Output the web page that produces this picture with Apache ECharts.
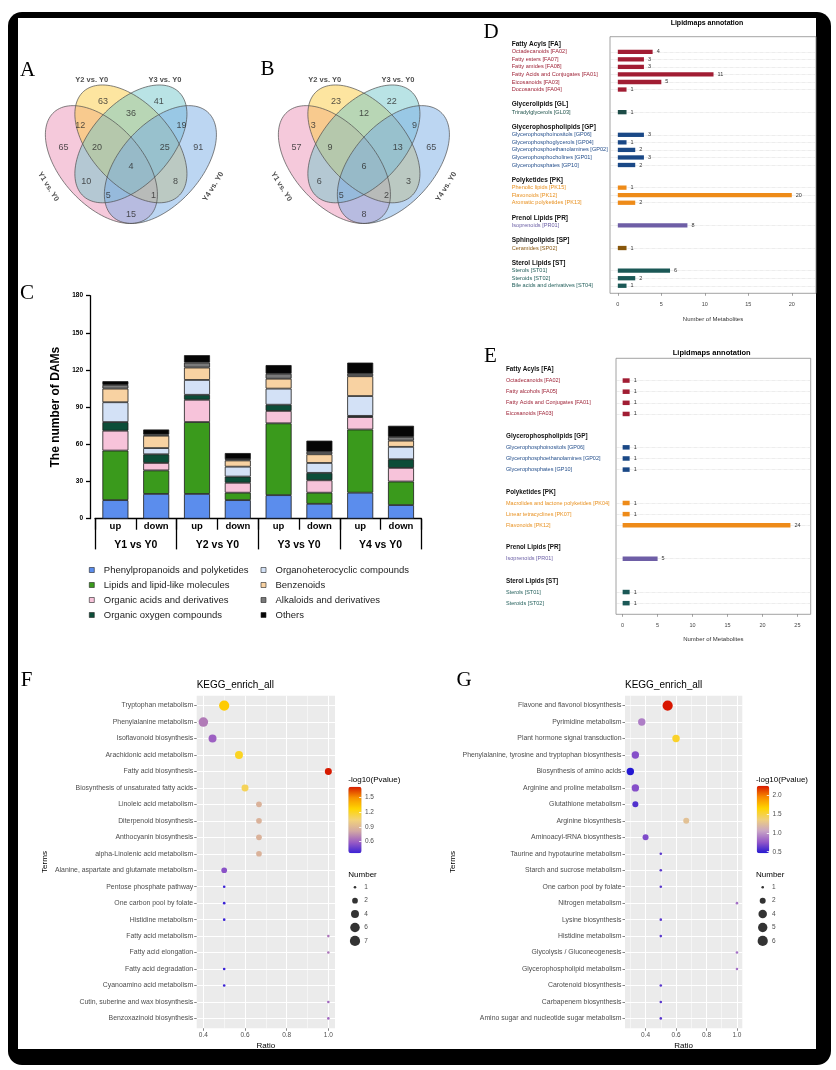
<!DOCTYPE html>
<html>
<head>
<meta charset="utf-8">
<title>Metabolite figure</title>
<script src="https://cdn.jsdelivr.net/npm/echarts@6.0.0/dist/echarts.min.js"></script>
<style>
html,body{margin:0;padding:0;background:#fff;}
#frame{position:absolute;left:8px;top:12px;width:823px;height:1053px;background:#000;border-radius:14px;}
#inner{position:absolute;left:18px;top:18px;width:798px;height:1031px;background:#fff;}
#chart{position:absolute;left:0;top:0;width:836px;height:1070px;}
</style>
</head>
<body>
<div id="frame"></div><div id="inner"></div><div id="chart"></div>
<script>
// ================= DATA =================
// Panels A / B : Venn diagram counts
const vennSetNames = ['Y1 vs. Y0', 'Y2 vs. Y0', 'Y3 vs. Y0', 'Y4 vs. Y0'];
const vennRegionKeys = ['1', '2', '3', '4', '12', '23', '34', '14', '13', '24', '123', '234', '134', '124', '1234'];
const vennCountsA = [65, 63, 41, 91, 12, 36, 19, 15, 10, 8, 20, 25, 5, 1, 4];
const vennCountsB = [57, 23, 22, 65, 3, 12, 9, 8, 6, 3, 9, 13, 5, 2, 6];

// Panel C : stacked bars
const cSides = ['up', 'down', 'up', 'down', 'up', 'down', 'up', 'down'];
const cComparisons = ['Y1 vs Y0', 'Y2 vs Y0', 'Y3 vs Y0', 'Y4 vs Y0'];
const cClasses = ['Phenylpropanoids and polyketides', 'Lipids and lipid-like molecules', 'Organic acids and derivatives', 'Organic oxygen compounds',
                  'Organoheterocyclic compounds', 'Benzenoids', 'Alkaloids and derivatives', 'Others'];
const cPhenylpropanoids = [15, 20, 20, 15, 19, 12, 21, 11];
const cLipids = [40, 19, 58, 6, 58, 9, 51, 19];
const cOrganicAcids = [16, 6, 18, 8, 10, 10, 10, 11];
const cOrganicOxygen = [7, 7, 4, 5, 5, 6, 1, 7];
const cOrganoheterocyclic = [16, 5, 12, 8, 13, 8, 16, 10];
const cBenzenoids = [11, 10, 10, 5, 8, 7, 16, 5];
const cAlkaloids = [3, 1, 4, 1, 4, 2, 2, 3];
const cOthers = [3, 4, 6, 5, 7, 9, 9, 9];

// Panel D : Lipidmaps annotation
const dGroups = ['Fatty Acyls [FA]', 'Glycerolipids [GL]', 'Glycerophospholipids [GP]', 'Polyketides [PK]', 'Prenol Lipids [PR]', 'Sphingolipids [SP]', 'Sterol Lipids [ST]'];
const dGroupKeys = ['FA', 'GL', 'GP', 'PK', 'PR', 'SP', 'ST'];
const dFA = ['Octadecanoids [FA02]', 'Fatty esters [FA07]', 'Fatty amides [FA08]', 'Fatty Acids and Conjugates [FA01]', 'Eicosanoids [FA03]', 'Docosanoids [FA04]'];
const dFAValues = [4, 3, 3, 11, 5, 1];
const dGL = ['Triradylglycerols [GL03]'];
const dGLValues = [1];
const dGP = ['Glycerophosphoinositols [GP06]', 'Glycerophosphoglycerols [GP04]', 'Glycerophosphoethanolamines [GP02]', 'Glycerophosphocholines [GP01]', 'Glycerophosphates [GP10]'];
const dGPValues = [3, 1, 2, 3, 2];
const dPK = ['Phenolic lipids [PK15]', 'Flavonoids [PK12]', 'Aromatic polyketides [PK13]'];
const dPKValues = [1, 20, 2];
const dPR = ['Isoprenoids [PR01]'];
const dPRValues = [8];
const dSP = ['Ceramides [SP02]'];
const dSPValues = [1];
const dST = ['Sterols [ST01]', 'Steroids [ST02]', 'Bile acids and derivatives [ST04]'];
const dSTValues = [6, 2, 1];
const dTicks = [0, 5, 10, 15, 20];

// Panel E : Lipidmaps annotation
const eGroups = ['Fatty Acyls [FA]', 'Glycerophospholipids [GP]', 'Polyketides [PK]', 'Prenol Lipids [PR]', 'Sterol Lipids [ST]'];
const eGroupKeys = ['FA', 'GP', 'PK', 'PR', 'ST'];
const eFA = ['Octadecanoids [FA02]', 'Fatty alcohols [FA05]', 'Fatty Acids and Conjugates [FA01]', 'Eicosanoids [FA03]'];
const eFAValues = [1, 1, 1, 1];
const eGP = ['Glycerophosphoinositols [GP06]', 'Glycerophosphoethanolamines [GP02]', 'Glycerophosphates [GP10]'];
const eGPValues = [1, 1, 1];
const ePK = ['Macrolides and lactone polyketides [PK04]', 'Linear tetracyclines [PK07]', 'Flavonoids [PK12]'];
const ePKValues = [1, 1, 24];
const ePR = ['Isoprenoids [PR01]'];
const ePRValues = [5];
const eST = ['Sterols [ST01]', 'Steroids [ST02]'];
const eSTValues = [1, 1];
const eTicks = [0, 5, 10, 15, 20, 25];

// Panel F : KEGG enrichment
const fTerms = ['Tryptophan metabolism', 'Phenylalanine metabolism', 'Isoflavonoid biosynthesis', 'Arachidonic acid metabolism', 'Fatty acid biosynthesis',
  'Biosynthesis of unsaturated fatty acids', 'Linoleic acid metabolism', 'Diterpenoid biosynthesis', 'Anthocyanin biosynthesis', 'alpha-Linolenic acid metabolism',
  'Alanine, aspartate and glutamate metabolism', 'Pentose phosphate pathway', 'One carbon pool by folate', 'Histidine metabolism', 'Fatty acid metabolism',
  'Fatty acid elongation', 'Fatty acid degradation', 'Cyanoamino acid metabolism', 'Cutin, suberine and wax biosynthesis', 'Benzoxazinoid biosynthesis'];
const fRatio = [0.5, 0.4, 0.444, 0.571, 1.0, 0.6, 0.667, 0.667, 0.667, 0.667, 0.5, 0.5, 0.5, 0.5, 1.0, 1.0, 0.5, 0.5, 1.0, 1.0];
const fNumber = [7, 6, 4, 4, 3, 3, 2, 2, 2, 2, 2, 1, 1, 1, 1, 1, 1, 1, 1, 1];
const fLogP = [1.30, 0.68, 0.60, 1.20, 1.716, 1.10, 0.87, 0.87, 0.87, 0.87, 0.55, 0.363, 0.363, 0.363, 0.66, 0.66, 0.363, 0.363, 0.62, 0.62];
const fRatioTicks = [0.4, 0.6, 0.8, 1.0];
const fRatioMinor = [0.5, 0.7, 0.9];
const fColorTicks = [0.6, 0.9, 1.2, 1.5];
const fSizeLegend = [1, 2, 4, 6, 7];

// Panel G : KEGG enrichment
const gTerms = ['Flavone and flavonol biosynthesis', 'Pyrimidine metabolism', 'Plant hormone signal transduction', 'Phenylalanine, tyrosine and tryptophan biosynthesis',
  'Biosynthesis of amino acids', 'Arginine and proline metabolism', 'Glutathione metabolism', 'Arginine biosynthesis', 'Aminoacyl-tRNA biosynthesis',
  'Taurine and hypotaurine metabolism', 'Starch and sucrose metabolism', 'One carbon pool by folate', 'Nitrogen metabolism', 'Lysine biosynthesis',
  'Histidine metabolism', 'Glycolysis / Gluconeogenesis', 'Glycerophospholipid metabolism', 'Carotenoid biosynthesis', 'Carbapenem biosynthesis',
  'Amino sugar and nucleotide sugar metabolism'];
const gRatio = [0.545, 0.375, 0.6, 0.333, 0.3, 0.333, 0.333, 0.667, 0.4, 0.5, 0.5, 0.5, 1.0, 0.5, 0.5, 1.0, 1.0, 0.5, 0.5, 0.5];
const gNumber = [6, 3, 3, 3, 3, 3, 2, 2, 2, 1, 1, 1, 1, 1, 1, 1, 1, 1, 1, 1];
const gLogP = [2.246, 0.90, 1.55, 0.72, 0.458, 0.72, 0.58, 1.25, 0.70, 0.60, 0.60, 0.60, 0.85, 0.60, 0.60, 0.85, 0.85, 0.60, 0.60, 0.60];
const gRatioTicks = [0.4, 0.6, 0.8, 1.0];
const gRatioMinor = [0.3, 0.5, 0.7, 0.9];
const gColorTicks = [0.5, 1.0, 1.5, 2.0];
const gSizeLegend = [1, 2, 4, 5, 6];

// ================= STYLE / LAYOUT =================
const FONT = '"Liberation Sans", Arial, sans-serif';
const SERIF = '"Liberation Serif", "DejaVu Serif", serif';
// Venn geometry (unit square, VennDiagram-style ellipses): cx, cy, semi-major, semi-minor, angle, colour index
const vennEllipses = [[0.35, 0.47, 0.35, 0.2, -45, 0], [0.5, 0.57, 0.35, 0.2, -45, 1], [0.5, 0.57, 0.35, 0.2, 45, 2], [0.65, 0.47, 0.35, 0.2, 45, 3]];
const vennFill = ['rgba(235,147,183,0.5)', 'rgba(251,203,65,0.5)', 'rgba(115,199,203,0.5)', 'rgba(121,173,229,0.5)'];
const vennRegionPos = {'1': [0.157, 0.553], '2': [0.358, 0.774], '3': [0.642, 0.774], '4': [0.843, 0.553], '12': [0.242, 0.661], '23': [0.5, 0.715],
  '34': [0.758, 0.661], '14': [0.5, 0.226], '13': [0.273, 0.39], '24': [0.727, 0.39], '123': [0.328, 0.553], '234': [0.672, 0.553],
  '134': [0.385, 0.318], '124': [0.615, 0.318], '1234': [0.5, 0.46]};
const vennSetPos = [[0.08, 0.363, -58], [0.301, 0.879, 0], [0.673, 0.879, 0], [0.919, 0.363, 58]];
const cColors = ['#5b8ded', '#3a9a1c', '#f7c3da', '#0c4d38', '#d3e1f6', '#f8d2a2', '#7a7a7a', '#050505'];
const lipidBar = {FA: '#a11d33', GL: '#1d4c47', GP: '#1a4886', PK: '#ee8b19', PR: '#6e5ea6', SP: '#87560b', ST: '#1b5856'};
const lipidText = {FA: '#9e2236', GL: '#24574f', GP: '#244f8c', PK: '#e8901f', PR: '#6b5fa5', SP: '#8a5b16', ST: '#24605c'};
const fColors = ['#3a22d6', '#9a5cc4', '#d2a8a4', '#f2d27a', '#ffd500', '#f79400', '#d61a00'];
const gColors = ['#2418d2', '#9458c8', '#c9a6c4', '#efcf7c', '#ffd400', '#f88a00', '#d81600'];

const grids = [], xAxes = [], yAxes = [], series = [], visualMaps = [], legends = [], graphics = [];
function addGrid(g) { grids.push(g); return grids.length - 1; }
function addX(a) { xAxes.push(a); return xAxes.length - 1; }
function addY(a) { yAxes.push(a); return yAxes.length - 1; }
function txt(text, x, y, font, align, color) {
  align = align || 'center';
  return {type: 'text', x: x, y: y, silent: true, z: 50,
    style: {text: text, font: font, fill: color || '#000', align: align, verticalAlign: 'middle', textAlign: align, textVerticalAlign: 'middle'}};
}
const hidden = {show: false};

// ---------- Venn ----------
function ellipseRender(fillMode) {
  return function (params, api) {
    const cx = api.value(0), cy = api.value(1), a = api.value(2), b = api.value(3);
    const ang = api.value(4) * Math.PI / 180, ci = api.value(5);
    const pts = [];
    for (let k = 0; k < 120; k++) {
      const t = 2 * Math.PI * k / 120;
      const x = cx + a * Math.cos(t) * Math.cos(ang) - b * Math.sin(t) * Math.sin(ang);
      const y = cy + a * Math.cos(t) * Math.sin(ang) + b * Math.sin(t) * Math.cos(ang);
      pts.push(api.coord([x, y]));
    }
    return {type: 'polygon', shape: {points: pts},
      style: fillMode ? {fill: vennFill[ci], stroke: null, lineWidth: 0} : {fill: null, stroke: '#4d4d4d', lineWidth: 0.7}};
  };
}
function buildVenn(left, counts) {
  const gi = addGrid({left: left, top: 55, width: 196.6, height: 206.7});
  const xi = addX({type: 'value', gridIndex: gi, min: 0, max: 1, show: false, axisLine: {onZero: false}});
  const yi = addY({type: 'value', gridIndex: gi, min: 0, max: 1, show: false, axisLine: {onZero: false}});
  series.push({type: 'custom', xAxisIndex: xi, yAxisIndex: yi, data: vennEllipses, renderItem: ellipseRender(true), silent: true, z: 1});
  series.push({type: 'custom', xAxisIndex: xi, yAxisIndex: yi, data: vennEllipses, renderItem: ellipseRender(false), silent: true, z: 2});
  series.push({type: 'scatter', xAxisIndex: xi, yAxisIndex: yi, symbolSize: 1, itemStyle: {color: 'transparent'}, silent: true, z: 5,
    data: vennRegionKeys.map((r, i) => [vennRegionPos[r][0], vennRegionPos[r][1], counts[i]]),
    label: {show: true, position: 'inside', align: 'center', verticalAlign: 'middle', formatter: p => String(p.value[2]), fontSize: 9, color: '#2a2a2a', fontFamily: FONT}});
  series.push({type: 'scatter', xAxisIndex: xi, yAxisIndex: yi, symbolSize: 1, itemStyle: {color: 'transparent'}, silent: true, z: 5,
    data: vennSetNames.map((s, i) => ({name: s, value: [vennSetPos[i][0], vennSetPos[i][1]], label: {rotate: vennSetPos[i][2]}})),
    label: {show: true, position: 'inside', align: 'center', verticalAlign: 'middle', formatter: p => p.name, fontSize: 7.5, fontWeight: 'bold', color: '#222', fontFamily: FONT}});
}
buildVenn(32.6, vennCountsA);
buildVenn(265.6, vennCountsB);

// ---------- Panel C ----------
(function () {
  const gi = addGrid({left: 95, top: 295.7, width: 326.4, height: 223});
  const x0 = addX({type: 'category', gridIndex: gi, data: cSides, position: 'bottom',
    axisLine: {show: true, onZero: false, lineStyle: {color: '#000', width: 1.3}},
    axisTick: {show: true, interval: 0, length: 11, lineStyle: {color: '#000', width: 1.3}},
    axisLabel: {interval: 0, fontSize: 9.5, fontWeight: 'bold', color: '#000', margin: 3, fontFamily: FONT}});
  addX({type: 'category', gridIndex: gi, data: cComparisons, position: 'bottom',
    axisLine: {show: false, onZero: false},
    axisTick: {show: true, interval: 0, length: 30.7, lineStyle: {color: '#000', width: 1.3}},
    axisLabel: {interval: 0, fontSize: 10.5, fontWeight: 'bold', color: '#000', margin: 21, fontFamily: FONT}});
  const yi = addY({type: 'value', gridIndex: gi, min: 0, max: 180, interval: 30, offset: 5,
    axisLine: {show: true, onZero: false, lineStyle: {color: '#000', width: 1.3}},
    axisTick: {show: true, length: 4, lineStyle: {color: '#000', width: 1.3}},
    axisLabel: {fontSize: 6.5, fontWeight: 'bold', color: '#000', margin: 7, fontFamily: FONT},
    splitLine: {show: false},
    name: 'The number of DAMs', nameLocation: 'middle', nameGap: 28,
    nameTextStyle: {fontSize: 12, fontWeight: 'bold', color: '#000', fontFamily: FONT}});
  const cValues = [cPhenylpropanoids, cLipids, cOrganicAcids, cOrganicOxygen, cOrganoheterocyclic, cBenzenoids, cAlkaloids, cOthers];
  cClasses.forEach((name, k) => {
    series.push({type: 'bar', name: name, stack: 'dams', xAxisIndex: x0, yAxisIndex: yi, data: cValues[k], barWidth: 26, silent: true,
      itemStyle: {color: cColors[k], borderColor: '#1a1a1a', borderWidth: 0.8}});
  });
  const legBase = {orient: 'vertical', top: 564.5, itemWidth: 14, itemHeight: 5, itemGap: 4, padding: 0, selectedMode: false,
    icon: 'path://M0,0H10V10H0Z', itemStyle: {borderColor: '#222', borderWidth: 0.6},
    textStyle: {fontSize: 9.5, color: '#222', lineHeight: 11, fontFamily: FONT}};
  legends.push(Object.assign({}, legBase, {left: 89, data: cClasses.slice(0, 4)}));
  legends.push(Object.assign({}, legBase, {left: 260.7, data: cClasses.slice(4)}));
})();

// ---------- Panels D / E ----------
function buildRows(groups, keys, items, values) {
  const rows = [{type: 'pad'}];
  groups.forEach((g, gi) => {
    if (gi > 0) rows.push({type: 'pad'});
    rows.push({type: 'head', text: g});
    items[gi].forEach((t, j) => rows.push({type: 'item', text: t, v: values[gi][j], key: keys[gi]}));
  });
  rows.push({type: 'pad'});
  return rows;
}
function lipidChart(cfg) {
  const rows = buildRows(cfg.groups, cfg.keys, cfg.items, cfg.values);
  const gi = addGrid({left: cfg.left, top: cfg.top, width: cfg.width, height: cfg.height, show: true,
    borderColor: '#8c8c8c', borderWidth: 0.8, backgroundColor: 'transparent'});
  const xi = addX({type: 'value', gridIndex: gi, min: cfg.min, max: cfg.max,
    axisLine: {show: false, onZero: false}, splitLine: {show: false},
    axisTick: {show: true, customValues: cfg.ticks, length: 2.5, lineStyle: {color: '#666', width: 0.6}},
    axisLabel: {customValues: cfg.ticks, fontSize: 5.5, color: '#444', margin: cfg.labelMargin, fontFamily: FONT},
    name: 'Number of Metabolites', nameLocation: 'middle', nameGap: cfg.nameGap,
    nameTextStyle: {fontSize: 6, color: '#333', fontFamily: FONT}});
  const rich = {h: {fontSize: cfg.headSize, fontWeight: 'bold', color: '#111', fontFamily: FONT}};
  Object.keys(lipidText).forEach(k => { rich[k] = {fontSize: cfg.itemSize, color: lipidText[k], fontFamily: FONT}; });
  const yi = addY({type: 'category', gridIndex: gi, inverse: true, boundaryGap: false, data: rows.map((r, i) => 'r' + i),
    axisLine: {show: false, onZero: false}, axisTick: {show: false},
    axisLabel: {interval: 0, align: 'left', margin: cfg.margin, rich: rich,
      formatter: (v, i) => { const r = rows[i]; if (!r) return ''; if (r.type === 'head') return '{h|' + r.text + '}'; if (r.type === 'item') return '{' + r.key + '|' + r.text + '}'; return ''; }},
    splitLine: {show: true, interval: (i) => !!(rows[i] && rows[i].type === 'item'), lineStyle: {type: 'dotted', color: '#cdcdcd', width: 0.6}}});
  series.push({type: 'bar', xAxisIndex: xi, yAxisIndex: yi, barWidth: cfg.barWidth, silent: true,
    data: rows.map(r => r.type === 'item' ? {value: r.v, itemStyle: {color: lipidBar[r.key]}} : '-'),
    label: {show: true, position: 'right', distance: 4, fontSize: 5.5, color: '#333', fontFamily: FONT}});
}
lipidChart({groups: dGroups, keys: dGroupKeys, items: [dFA, dGL, dGP, dPK, dPR, dSP, dST],
  values: [dFAValues, dGLValues, dGPValues, dPKValues, dPRValues, dSPValues, dSTValues],
  left: 610, top: 36.7, width: 206, height: 256.6, min: -0.9, max: 22.78, ticks: dTicks,
  labelMargin: 8.5, nameGap: 23.5, margin: 98.3, headSize: 6.5, itemSize: 5.6, barWidth: 4.3});
lipidChart({groups: eGroups, keys: eGroupKeys, items: [eFA, eGP, ePK, ePR, eST],
  values: [eFAValues, eGPValues, ePKValues, ePRValues, eSTValues],
  left: 616, top: 358.3, width: 194.7, height: 256, min: -0.95, max: 26.9, ticks: eTicks,
  labelMargin: 8, nameGap: 22.5, margin: 110, headSize: 6.3, itemSize: 5.5, barWidth: 4.5});

// ---------- Panels F / G ----------
function keggChart(cfg) {
  const gi = addGrid({left: cfg.left, top: 695.7, width: cfg.width, height: 332.6, show: true, backgroundColor: '#ebebeb', borderWidth: 0});
  const xi = addX({type: 'value', gridIndex: gi, min: cfg.xmin, max: cfg.xmax, position: 'bottom',
    axisLine: {show: false, onZero: false},
    axisTick: {show: true, customValues: cfg.ticks, length: 2.5, lineStyle: {color: '#333', width: 0.6}},
    axisLabel: {customValues: cfg.ticks, formatter: v => Number(v).toFixed(1), fontSize: 6.5, color: '#4d4d4d', margin: 3, fontFamily: FONT},
    splitLine: {show: true, lineStyle: {color: '#fff', width: 1}},
    name: 'Ratio', nameLocation: 'middle', nameGap: 13.5, nameTextStyle: {fontSize: 8, color: '#000', fontFamily: FONT}});
  addX({type: 'value', gridIndex: gi, min: cfg.xmin, max: cfg.xmax, position: 'bottom',
    axisLine: {show: false, onZero: false}, axisTick: {show: false, customValues: cfg.minor},
    axisLabel: {show: false, customValues: cfg.minor},
    splitLine: {show: true, lineStyle: {color: '#fff', width: 0.5}}});
  const idx = cfg.terms.map((t, i) => i);
  const yi = addY({type: 'value', gridIndex: gi, inverse: true, min: -0.6, max: cfg.terms.length - 0.4,
    axisLine: {show: false, onZero: false},
    axisTick: {show: true, customValues: idx, length: 2.5, lineStyle: {color: '#333', width: 0.6}},
    axisLabel: {customValues: idx, formatter: v => cfg.terms[Math.round(v)] || '', fontSize: 6.9, color: '#4d4d4d', margin: 3.5, fontFamily: FONT},
    splitLine: {show: true, lineStyle: {color: '#fff', width: 1}},
    name: 'Terms', nameLocation: 'middle', nameGap: cfg.termsGap, nameTextStyle: {fontSize: 8, color: '#000', fontFamily: FONT}});
  const si = series.length;
  series.push({type: 'scatter', xAxisIndex: xi, yAxisIndex: yi, silent: true, z: 5,
    data: cfg.terms.map((t, i) => [cfg.ratio[i], i, cfg.number[i], cfg.logp[i]]),
    symbolSize: v => cfg.size(v[2]), itemStyle: {opacity: 1}});
  visualMaps.push({type: 'continuous', seriesIndex: si, dimension: 3, min: cfg.pmin, max: cfg.pmax,
    inRange: {color: cfg.colors}, calculable: false, orient: 'vertical', padding: 0,
    left: cfg.cbLeft, top: cfg.cbTop, itemWidth: cfg.cbW, itemHeight: cfg.cbH, hoverLink: false});
  // colour-bar tick labels
  const cg = addGrid({left: cfg.cbLeft, top: cfg.cbTop, width: cfg.cbW, height: cfg.cbH});
  addX({type: 'value', gridIndex: cg, min: 0, max: 1, show: false, axisLine: {onZero: false}});
  addY({type: 'value', gridIndex: cg, min: cfg.pmin, max: cfg.pmax, position: 'right', z: 10,
    axisLine: {show: false, onZero: false}, splitLine: {show: false},
    axisTick: {show: true, inside: true, customValues: cfg.cticks, length: 2.5, lineStyle: {color: '#fff', width: 0.8}},
    axisLabel: {customValues: cfg.cticks, formatter: v => Number(v).toFixed(1), fontSize: 6.5, color: '#4d4d4d', margin: 3.3, fontFamily: FONT}});
  // size legend
  const sg = addGrid({left: cfg.cbLeft + cfg.sizeDx, top: 880.6, width: 12, height: 67});
  const sx = addX({type: 'value', gridIndex: sg, min: 0, max: 1, show: false, axisLine: {onZero: false}});
  const sy = addY({type: 'value', gridIndex: sg, inverse: true, min: -0.5, max: cfg.sizeLegend.length - 0.5, position: 'right',
    axisLine: {show: false, onZero: false}, axisTick: {show: false}, splitLine: {show: false},
    axisLabel: {customValues: cfg.sizeLegend.map((n, i) => i), formatter: v => String(cfg.sizeLegend[Math.round(v)]), fontSize: 6.5, color: '#4d4d4d', margin: 3.2, fontFamily: FONT}});
  series.push({type: 'scatter', xAxisIndex: sx, yAxisIndex: sy, silent: true,
    data: cfg.sizeLegend.map((n, i) => [0.5, i, n]), symbolSize: v => cfg.size(v[2]), itemStyle: {color: '#000'}});
  graphics.push(txt('KEGG_enrich_all', cfg.left, 685, '10px ' + FONT, 'left', '#000'));
  graphics.push(txt('-log10(Pvalue)', cfg.titleLeft, 780, '8px ' + FONT, 'left', '#000'));
  graphics.push(txt('Number', cfg.titleLeft, 874.3, '8px ' + FONT, 'left', '#000'));
}
keggChart({terms: fTerms, ratio: fRatio, number: fNumber, logp: fLogP, left: 196.7, width: 138.3, xmin: 0.368, xmax: 1.032,
  ticks: fRatioTicks, minor: fRatioMinor, termsGap: 147.7, pmin: 0.363, pmax: 1.716, colors: fColors, cticks: fColorTicks,
  cbLeft: 348.3, cbTop: 786.7, cbW: 13.3, cbH: 66.6, sizeDx: 0.7, sizeLegend: fSizeLegend, titleLeft: 348.3,
  size: n => 2.6 + 7.6 * Math.sqrt((n - 1) / 6)});
keggChart({terms: gTerms, ratio: gRatio, number: gNumber, logp: gLogP, left: 625, width: 117.3, xmin: 0.265, xmax: 1.035,
  ticks: gRatioTicks, minor: gRatioMinor, termsGap: 168, pmin: 0.458, pmax: 2.246, colors: gColors, cticks: gColorTicks,
  cbLeft: 756.7, cbTop: 785.7, cbW: 12.6, cbH: 67.6, sizeDx: 0, sizeLegend: gSizeLegend, titleLeft: 756,
  size: n => 2.6 + 7.6 * Math.sqrt((n - 1) / 5)});

// ---------- Panel letters & titles ----------
const letterFont = '21px ' + SERIF;
graphics.push(txt('A', 27.5, 70, letterFont));
graphics.push(txt('B', 267.5, 69.5, letterFont));
graphics.push(txt('C', 27, 293.5, letterFont));
graphics.push(txt('D', 491, 32.5, letterFont));
graphics.push(txt('E', 490.5, 356, letterFont));
graphics.push(txt('F', 26.7, 680, letterFont));
graphics.push(txt('G', 464, 680, letterFont));
graphics.push(txt('Lipidmaps annotation', 707, 23, 'bold 7px ' + FONT));
graphics.push(txt('Lipidmaps annotation', 711.7, 353.3, 'bold 7.5px ' + FONT));

const chart = echarts.init(document.getElementById('chart'), null, {renderer: 'canvas', width: 836, height: 1070});
chart.setOption({
  backgroundColor: 'transparent',
  animation: false,
  textStyle: {fontFamily: FONT},
  grid: grids,
  xAxis: xAxes,
  yAxis: yAxes,
  legend: legends,
  visualMap: visualMaps,
  graphic: {elements: graphics},
  series: series
});
</script>
</body>
</html>
